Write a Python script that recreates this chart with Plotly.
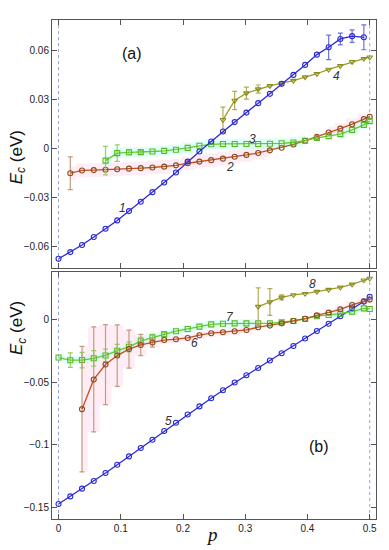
import plotly.graph_objects as go

# ---------------- data ----------------
P = [0, 0.0189, 0.0377, 0.0566, 0.0755, 0.0943, 0.1132, 0.1321, 0.1509, 0.1698,
     0.1887, 0.2075, 0.2264, 0.2453, 0.2642, 0.2830, 0.3019, 0.3208, 0.3396, 0.3585,
     0.3774, 0.3962, 0.4151, 0.4340, 0.4528, 0.4717, 0.4906, 0.5]

# panel (a)
s1_p = P[0:27]
s1_y = [-0.0675, -0.0634, -0.0591, -0.0542, -0.0491, -0.0440, -0.0383, -0.0326, -0.0267,
        -0.0208, -0.0147, -0.0080, -0.0018, 0.0043, 0.0104, 0.0162, 0.0220, 0.0278,
        0.0335, 0.0396, 0.0451, 0.0512, 0.0575, 0.0620, 0.0671, 0.0688, 0.0681]
s1_err = [0]*23 + [0.0075, 0.0036, 0.0038, 0.0076]

s2_p = P[1:28]
s2_y = [-0.0151, -0.0134, -0.0132, -0.0130, -0.0127, -0.0123, -0.0120, -0.0116, -0.0111,
        -0.0103, -0.0090, -0.0080, -0.0071, -0.0062, -0.0050, -0.0039, -0.0027, -0.0011,
        0.0005, 0.0025, 0.0048, 0.0072, 0.0098, 0.0122, 0.0149, 0.0180, 0.0195]
s2_err = [0.0100] + [0]*26

s3_p = P[4:28]
s3_y = [-0.0074, -0.0028, -0.0023, -0.0022, -0.0018, -0.0014, -0.0007, 0.0004, 0.0017,
        0.0026, 0.0028, 0.0028, 0.0028, 0.0028, 0.0029, 0.0032, 0.0037, 0.0048, 0.0065,
        0.0076, 0.0088, 0.0114, 0.0145, 0.0168]
s3_err = [0.0087, 0.0050, 0.0015, 0.0012] + [0]*20

s4_p = P[14:28]
s4_y = [0.0176, 0.0294, 0.0339, 0.0364, 0.0384, 0.0400, 0.0416, 0.0437, 0.0458, 0.0484,
        0.0507, 0.0531, 0.0550, 0.0559]
s4_err = [0.0078, 0.0056, 0.0037, 0.0025] + [0]*10

# panel (b)
s5_p = P[0:28]
s5_y = [-0.1473, -0.1412, -0.1350, -0.1289, -0.1225, -0.1159, -0.1092, -0.1025, -0.0959,
        -0.0889, -0.0823, -0.0757, -0.0692, -0.0626, -0.0562, -0.0501, -0.0442, -0.0384,
        -0.0325, -0.0266, -0.0208, -0.0149, -0.0088, -0.0030, 0.0030, 0.0093, 0.0147, 0.0186]

s6_p = P[2:28]
s6_y = [-0.0714, -0.0476, -0.0357, -0.0285, -0.0233, -0.0200, -0.0180, -0.0161, -0.0154,
        -0.0144, -0.0122, -0.0106, -0.0098, -0.0090, -0.0080, -0.0058, -0.0045, -0.0027,
        -0.0008, 0.0010, 0.0037, 0.0059, 0.0085, 0.0120, 0.0150, 0.0163]
s6_err = [0.0502, 0.0420, 0.0320, 0.0246, 0.0152, 0.0085, 0.0037] + [0]*19

s7_p = P[0:28]
s7_y = [-0.0301, -0.0322, -0.0321, -0.0307, -0.0284, -0.0246, -0.0215, -0.0170, -0.0141,
        -0.0115, -0.0090, -0.0072, -0.0053, -0.0035, -0.0030, -0.0027, -0.0027, -0.0027,
        -0.0027, -0.0019, -0.0008, 0.0008, 0.0030, 0.0040, 0.0050, 0.0067, 0.0093, 0.0088]
s7_err = [0, 0.0058, 0.0062, 0.0062, 0.0050, 0.0050, 0.0040, 0.0030, 0.0026, 0.0020] + [0]*18

s8_p = P[17:28]
s8_y = [0.0107, 0.0144, 0.0181, 0.0200, 0.0210, 0.0227, 0.0243, 0.0261, 0.0285, 0.0318, 0.0332]
s8_err = [0.0150, 0.0107, 0.0020] + [0]*8

x_ticks = [0, 0.1, 0.2, 0.3, 0.4, 0.5]
x_ticklabels = ["0", "0.1", "0.2", "0.3", "0.4", "0.5"]
ya_ticks = [-0.06, -0.03, 0, 0.03, 0.06]
ya_ticklabels = ["\u22120.06", "\u22120.03", "0", "0.03", "0.06"]
yb_ticks = [-0.15, -0.1, -0.05, 0]
yb_ticklabels = ["\u22120.15", "\u22120.1", "\u22120.05", "0"]

# ---------------- styles ----------------
BLUE = "#2a2ad8"; BLUE_E = "#7070e0"
RED = "#c4501c"; RED_M = "#8a4a20"; RED_E = "#c49a80"
GREEN = "#62cc2c"; GREEN_M = "#58b820"; GREEN_E = "#94d060"
OLIVE = "#9c9c2a"; OLIVE_M = "#8c8c1e"; OLIVE_E = "#b4ac58"
PINK_BAND = "rgba(255,200,225,0.32)"
CYAN_BAND = "rgba(170,255,238,0.38)"

fig = go.Figure()


def band(px, py, perr, i0, i1, hw, color, xa, ya):
    xs = px[i0:i1]
    up = [y + max(hw, e) for y, e in zip(py[i0:i1], perr[i0:i1])]
    lo = [y - max(hw, e) for y, e in zip(py[i0:i1], perr[i0:i1])]
    fig.add_trace(go.Scatter(x=xs, y=lo, mode="lines", line=dict(width=0, shape="hvh"),
                             xaxis=xa, yaxis=ya, hoverinfo="skip", showlegend=False))
    fig.add_trace(go.Scatter(x=xs, y=up, mode="lines", line=dict(width=0, shape="hvh"),
                             fill="tonexty", fillcolor=color,
                             xaxis=xa, yaxis=ya, hoverinfo="skip", showlegend=False))


def series(px, py, perr, color, mcolor, ecolor, symbol, xa, ya):
    if perr is not None:
        ex = [x for x, e in zip(px, perr) if e > 0]
        ey = [y for y, e in zip(py, perr) if e > 0]
        ee = [e for e in perr if e > 0]
        fig.add_trace(go.Scatter(x=ex, y=ey, mode="markers",
                                 marker=dict(size=1, color="rgba(0,0,0,0)"),
                                 error_y=dict(type="data", array=ee, color=ecolor,
                                              thickness=1.2, width=2.5),
                                 xaxis=xa, yaxis=ya, hoverinfo="skip", showlegend=False))
    fig.add_trace(go.Scatter(x=px, y=py, mode="lines+markers",
                             line=dict(color=color, width=1.3),
                             marker=dict(symbol=symbol, size=5, color=mcolor,
                                         line=dict(color=mcolor, width=1.1)),
                             xaxis=xa, yaxis=ya, showlegend=False))


Z2 = [0]*len(s2_y)
Z3 = [0]*len(s3_y)
Z7 = [0]*len(s7_y)
# bands (a)
band(s2_p, s2_y, Z2, 0, 18, 0.0042, PINK_BAND, "x", "y")
band(s2_p, s2_y, Z2, 22, 27, 0.0035, PINK_BAND, "x", "y")
band(s3_p, s3_y, Z3, 0, 18, 0.0032, CYAN_BAND, "x", "y")
band(s3_p, s3_y, Z3, 20, 24, 0.0030, CYAN_BAND, "x", "y")
# bands (b)
band(s6_p, s6_y, s6_err, 0, 16, 0.0030, PINK_BAND, "x2", "y2")
band(s6_p, s6_y, s6_err, 21, 26, 0.0030, PINK_BAND, "x2", "y2")
band(s7_p, s7_y, Z7, 0, 18, 0.0032, CYAN_BAND, "x2", "y2")
band(s7_p, s7_y, Z7, 23, 28, 0.0030, CYAN_BAND, "x2", "y2")

# series (a)
series(s2_p, s2_y, s2_err, RED, RED_M, RED_E, "circle-open", "x", "y")
series(s3_p, s3_y, s3_err, GREEN, GREEN_M, GREEN_E, "square-open", "x", "y")
series(s4_p, s4_y, s4_err, OLIVE, OLIVE_M, OLIVE_E, "triangle-down-open", "x", "y")
series(s1_p, s1_y, s1_err, BLUE, BLUE, BLUE_E, "circle-open", "x", "y")
# series (b)
series(s5_p, s5_y, None, BLUE, BLUE, BLUE_E, "circle-open", "x2", "y2")
series(s7_p, s7_y, s7_err, GREEN, GREEN_M, GREEN_E, "square-open", "x2", "y2")
series(s6_p, s6_y, s6_err, RED, RED_M, RED_E, "circle-open", "x2", "y2")
series(s8_p, s8_y, s8_err, OLIVE, OLIVE_M, OLIVE_E, "triangle-down-open", "x2", "y2")

# ---------------- layout ----------------
W, H = 389, 550
ml, mr, mt, mb = 52, 13.3, 19.5, 30.7
ph = H - mt - mb
top_lo = (H - mb - 268) / ph
bot_hi = (H - mb - 272) / ph

axis_common = dict(showgrid=False, zeroline=False, showline=True, linecolor="#555555",
                   linewidth=1, mirror="ticks", ticks="inside", ticklen=5,
                   tickcolor="#555555", tickfont=dict(family="Liberation Sans", size=10,
                                                     color="#222222"))
xr = [-0.0105, 0.5101]

fig.update_layout(
    width=W, height=H, margin=dict(l=ml, r=mr, t=mt, b=mb),
    paper_bgcolor="white", plot_bgcolor="white",
    xaxis=dict(domain=[0, 1], range=xr, anchor="y", tickvals=x_ticks,
               ticktext=x_ticklabels, showticklabels=False, **axis_common),
    yaxis=dict(domain=[top_lo, 1], range=[-0.0732, 0.0787], anchor="x",
               tickvals=ya_ticks, ticktext=ya_ticklabels, **axis_common),
    xaxis2=dict(domain=[0, 1], range=xr, anchor="y2", tickvals=x_ticks,
                ticktext=x_ticklabels, **axis_common),
    yaxis2=dict(domain=[0, bot_hi], range=[-0.1593, 0.0383], anchor="x2",
                tickvals=yb_ticks, ticktext=yb_ticklabels, **axis_common),
)

# dotted verticals at p=0 and p=0.5
for xa, ya in (("x", "y"), ("x2", "y2")):
    for xv in (0, 0.5):
        fig.add_shape(type="line", x0=xv, x1=xv, y0=0, y1=1, xref=xa,
                      yref=f"{ya} domain", line=dict(color="#98a0d8", width=1, dash="dot"),
                      layer="below")

ann_font = dict(family="Liberation Sans", size=12, color="#333333")
labels = [("1", 0.1033, -0.0365, "x", "y"), ("2", 0.276, -0.0110, "x", "y"),
          ("3", 0.3124, 0.0057, "x", "y"), ("4", 0.446, 0.0445, "x", "y"),
          ("5", 0.1766, -0.0805, "x2", "y2"), ("6", 0.218, -0.0186, "x2", "y2"),
          ("7", 0.276, 0.0026, "x2", "y2"), ("8", 0.4073, 0.0288, "x2", "y2")]
for t, x, y, xa, ya in labels:
    fig.add_annotation(text=f"<i>{t}</i>", x=x, y=y, xref=xa, yref=ya, showarrow=False,
                       font=ann_font)

panel_font = dict(family="Liberation Sans", size=16, color="#111111")
fig.add_annotation(text="(a)", x=0.1178, y=0.058, xref="x", yref="y", showarrow=False,
                   font=panel_font)
fig.add_annotation(text="(b)", x=0.418, y=-0.1012, xref="x2", yref="y2", showarrow=False,
                   font=panel_font)

ylab = "<i>E</i><sub><i>c</i></sub> (eV)"
ylab_font = dict(family="Liberation Sans", size=17, color="#111111")
xpap = (18 - ml) / (W - ml - mr)
for yc in (157, 328):
    fig.add_annotation(text=ylab, x=xpap, y=(H - mb - yc) / ph, xref="paper", yref="paper",
                       textangle=-90, showarrow=False, font=ylab_font,
                       xanchor="center", yanchor="middle")

fig.add_annotation(text="<i>p</i>", x=(212 - ml) / (W - ml - mr), y=(H - mb - 535) / ph,
                   xref="paper", yref="paper", showarrow=False,
                   font=dict(family="Liberation Serif", size=19, color="#111111"),
                   xanchor="center", yanchor="middle")

fig.write_html("out.html", config={"displayModeBar": False},
               post_script="document.body.style.margin='0px';document.body.style.overflow='hidden';")
